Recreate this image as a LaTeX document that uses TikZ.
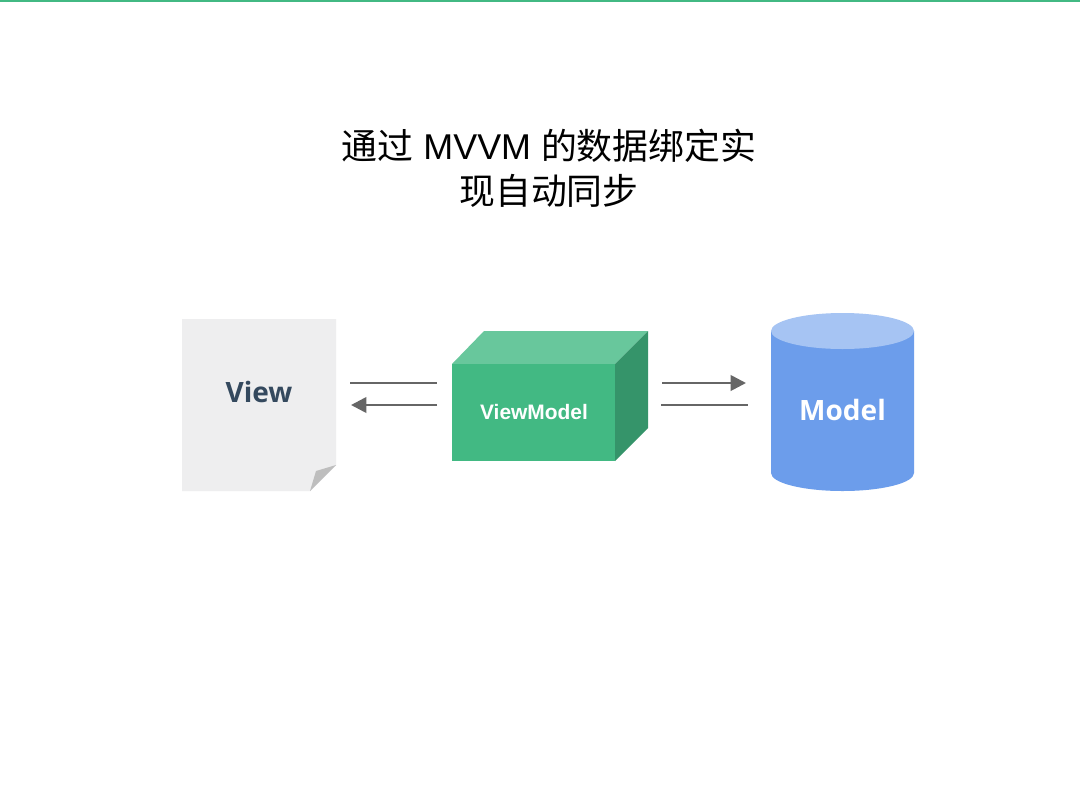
\documentclass[tikz,border=0pt]{standalone}
\usepackage{fontspec}
\setmainfont{Liberation Sans}
\newfontfamily\cjkfont{Noto Sans CJK SC}[Scale=1]
\newfontfamily\labelfont{Open Sans}
\usetikzlibrary{arrows.meta}
\definecolor{topgreen}{HTML}{42B983}
\definecolor{boxfront}{HTML}{42B983}
\definecolor{boxtop}{HTML}{68C79C}
\definecolor{boxside}{HTML}{35946A}
\definecolor{paper}{HTML}{EEEEEF}
\definecolor{fold}{HTML}{BEBEBE}
\definecolor{navy}{HTML}{34495E}
\definecolor{cylbody}{HTML}{6C9DEB}
\definecolor{cyltop}{HTML}{A6C4F3}
\definecolor{wire}{HTML}{666666}
\tikzset{
  conn/.style={draw=wire,line width=1.6pt},
  connarrow/.style={draw=wire,line width=2pt,-{Triangle[length=11.5pt,width=11.5pt]}},
  lbl/.style={inner sep=0pt,font=\labelfont\bfseries,anchor=center}
}
\begin{document}
\begin{tikzpicture}[x=0.75pt,y=-0.75pt]
\useasboundingbox (0,0) rectangle (1080,810);
\fill[white] (0,0) rectangle (1080,810);
\fill[topgreen] (0,0) rectangle (1080,2);
% title
\node[inner sep=0pt,align=center,font=\fontsize{26.9pt}{33.5pt}\selectfont] (title) at (549,168.5)
  {{\cjkfont 通过} MVVM {\cjkfont 的数据绑定实}\\{\cjkfont 现自动同步}};
% view
\fill[paper] (182,319) -- (336,319) -- (336,465) -- (310,491) -- (182,491) -- cycle;
\fill[fold] (336,465) -- (316,471) -- (310,491) -- cycle;
\node[lbl,text=navy,font=\labelfont\bfseries\fontsize{21pt}{25pt}\selectfont] (view) at (259,392) {View};
% viewmodel
\fill[boxtop] (452,364) -- (484,331) -- (648,331) -- (615,364) -- cycle;
\fill[boxside] (615,364) -- (648,331) -- (648,428) -- (615,461) -- cycle;
\fill[boxfront] (452,364) rectangle (615,461);
\node[inner sep=0pt,text=white,font=\bfseries\fontsize{15.7pt}{19pt}\selectfont] (vm) at (534,412.5) {ViewModel};
% model
\fill[cylbody] (771,331) -- (771,473) arc[start angle=180,end angle=0,x radius=71.5,y radius=18] -- (914,331) -- cycle;
\fill[cyltop] (842.5,331) ellipse[x radius=71.5,y radius=18];
\node[lbl,text=white,font=\labelfont\bfseries\fontsize{21pt}{25pt}\selectfont] (model) at (842.5,410) {Model};
% connectors
\coordinate (a1) at (350,383); \coordinate (a2) at (437,383);
\coordinate (b1) at (437,405); \coordinate (b2) at (351,405);
\coordinate (c1) at (662,383); \coordinate (c2) at (746,383);
\coordinate (d1) at (661,405); \coordinate (d2) at (748,405);
\draw[conn] (a1) -- (a2);
\draw[connarrow] (b1) -- (b2);
\draw[connarrow] (c1) -- (c2);
\draw[conn] (d1) -- (d2);
\end{tikzpicture}
\end{document}
